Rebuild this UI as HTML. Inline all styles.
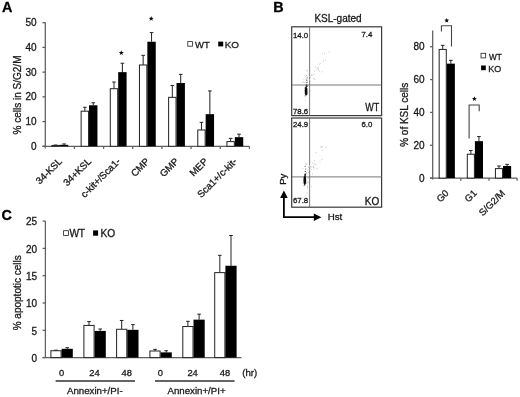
<!DOCTYPE html>
<html><head><meta charset="utf-8"><title>Figure</title>
<style>
html,body{margin:0;padding:0;background:#fff;}
body{width:520px;height:397px;overflow:hidden;}
svg{display:block;font-family:"Liberation Sans", sans-serif;}
text{stroke:currentColor;stroke-width:0.3px;}
</style></head>
<body>
<svg width="520" height="397" viewBox="0 0 520 397">
<defs><filter id="soft" x="0" y="0" width="100%" height="100%"><feColorMatrix type="saturate" values="0"/><feGaussianBlur stdDeviation="0.35"/></filter></defs>
<rect width="520" height="397" fill="#fff"/>
<g filter="url(#soft)">
<text font-size="14.40" text-anchor="start" font-weight="bold" fill="#000" color="#000" transform="translate(2.00 11.90)">A</text>
<line x1="45.30" y1="22.30" x2="45.30" y2="148.60" stroke="#5e5e5e" stroke-width="1.25"/>
<line x1="42.40" y1="146.30" x2="45.30" y2="146.30" stroke="#5e5e5e" stroke-width="1.25"/>
<text font-size="10.00" text-anchor="end" font-weight="normal" fill="#1a1a1a" color="#1a1a1a" transform="translate(36.60 149.90)">0</text>
<line x1="42.40" y1="121.58" x2="45.30" y2="121.58" stroke="#5e5e5e" stroke-width="1.25"/>
<text font-size="10.00" text-anchor="end" font-weight="normal" fill="#1a1a1a" color="#1a1a1a" transform="translate(36.60 125.18)">10</text>
<line x1="42.40" y1="96.86" x2="45.30" y2="96.86" stroke="#5e5e5e" stroke-width="1.25"/>
<text font-size="10.00" text-anchor="end" font-weight="normal" fill="#1a1a1a" color="#1a1a1a" transform="translate(36.60 100.46)">20</text>
<line x1="42.40" y1="72.14" x2="45.30" y2="72.14" stroke="#5e5e5e" stroke-width="1.25"/>
<text font-size="10.00" text-anchor="end" font-weight="normal" fill="#1a1a1a" color="#1a1a1a" transform="translate(36.60 75.74)">30</text>
<line x1="42.40" y1="47.42" x2="45.30" y2="47.42" stroke="#5e5e5e" stroke-width="1.25"/>
<text font-size="10.00" text-anchor="end" font-weight="normal" fill="#1a1a1a" color="#1a1a1a" transform="translate(36.60 51.02)">40</text>
<line x1="42.40" y1="22.70" x2="45.30" y2="22.70" stroke="#5e5e5e" stroke-width="1.25"/>
<text font-size="10.00" text-anchor="end" font-weight="normal" fill="#1a1a1a" color="#1a1a1a" transform="translate(36.60 26.30)">50</text>
<line x1="42.40" y1="146.30" x2="249.40" y2="146.30" stroke="#5e5e5e" stroke-width="1.25"/>
<line x1="74.46" y1="146.30" x2="74.46" y2="148.90" stroke="#5e5e5e" stroke-width="1.25"/>
<line x1="103.61" y1="146.30" x2="103.61" y2="148.90" stroke="#5e5e5e" stroke-width="1.25"/>
<line x1="132.77" y1="146.30" x2="132.77" y2="148.90" stroke="#5e5e5e" stroke-width="1.25"/>
<line x1="161.93" y1="146.30" x2="161.93" y2="148.90" stroke="#5e5e5e" stroke-width="1.25"/>
<line x1="191.09" y1="146.30" x2="191.09" y2="148.90" stroke="#5e5e5e" stroke-width="1.25"/>
<line x1="220.24" y1="146.30" x2="220.24" y2="148.90" stroke="#5e5e5e" stroke-width="1.25"/>
<line x1="249.40" y1="146.30" x2="249.40" y2="148.90" stroke="#5e5e5e" stroke-width="1.25"/>
<line x1="55.68" y1="145.43" x2="55.68" y2="145.06" stroke="#222" stroke-width="1.0"/>
<line x1="53.88" y1="145.06" x2="57.48" y2="145.06" stroke="#222" stroke-width="1.0"/>
<line x1="64.08" y1="144.82" x2="64.08" y2="143.95" stroke="#222" stroke-width="1.0"/>
<line x1="62.28" y1="143.95" x2="65.88" y2="143.95" stroke="#222" stroke-width="1.0"/>
<rect x="51.98" y="145.43" width="7.40" height="0.87" fill="#fff" stroke="#222" stroke-width="1"/>
<rect x="59.88" y="144.82" width="8.40" height="1.48" fill="#000"/>
<line x1="84.84" y1="111.20" x2="84.84" y2="107.24" stroke="#222" stroke-width="1.0"/>
<line x1="83.04" y1="107.24" x2="86.64" y2="107.24" stroke="#222" stroke-width="1.0"/>
<line x1="93.24" y1="105.26" x2="93.24" y2="102.79" stroke="#222" stroke-width="1.0"/>
<line x1="91.44" y1="102.79" x2="95.04" y2="102.79" stroke="#222" stroke-width="1.0"/>
<rect x="81.14" y="111.20" width="7.40" height="35.10" fill="#fff" stroke="#222" stroke-width="1"/>
<rect x="89.04" y="105.26" width="8.40" height="41.04" fill="#000"/>
<line x1="113.99" y1="88.70" x2="113.99" y2="82.03" stroke="#222" stroke-width="1.0"/>
<line x1="112.19" y1="82.03" x2="115.79" y2="82.03" stroke="#222" stroke-width="1.0"/>
<line x1="122.39" y1="72.14" x2="122.39" y2="63.24" stroke="#222" stroke-width="1.0"/>
<line x1="120.59" y1="63.24" x2="124.19" y2="63.24" stroke="#222" stroke-width="1.0"/>
<rect x="110.29" y="88.70" width="7.40" height="57.60" fill="#fff" stroke="#222" stroke-width="1"/>
<rect x="118.19" y="72.14" width="8.40" height="74.16" fill="#000"/>
<line x1="143.15" y1="64.97" x2="143.15" y2="55.33" stroke="#222" stroke-width="1.0"/>
<line x1="141.35" y1="55.33" x2="144.95" y2="55.33" stroke="#222" stroke-width="1.0"/>
<line x1="151.55" y1="41.73" x2="151.55" y2="32.59" stroke="#222" stroke-width="1.0"/>
<line x1="149.75" y1="32.59" x2="153.35" y2="32.59" stroke="#222" stroke-width="1.0"/>
<rect x="139.45" y="64.97" width="7.40" height="81.33" fill="#fff" stroke="#222" stroke-width="1"/>
<rect x="147.35" y="41.73" width="8.40" height="104.57" fill="#000"/>
<line x1="172.31" y1="97.35" x2="172.31" y2="85.49" stroke="#222" stroke-width="1.0"/>
<line x1="170.51" y1="85.49" x2="174.11" y2="85.49" stroke="#222" stroke-width="1.0"/>
<line x1="180.71" y1="83.02" x2="180.71" y2="74.36" stroke="#222" stroke-width="1.0"/>
<line x1="178.91" y1="74.36" x2="182.51" y2="74.36" stroke="#222" stroke-width="1.0"/>
<rect x="168.61" y="97.35" width="7.40" height="48.95" fill="#fff" stroke="#222" stroke-width="1"/>
<rect x="176.51" y="83.02" width="8.40" height="63.28" fill="#000"/>
<line x1="201.46" y1="129.98" x2="201.46" y2="122.32" stroke="#222" stroke-width="1.0"/>
<line x1="199.66" y1="122.32" x2="203.26" y2="122.32" stroke="#222" stroke-width="1.0"/>
<line x1="209.86" y1="114.16" x2="209.86" y2="90.93" stroke="#222" stroke-width="1.0"/>
<line x1="208.06" y1="90.93" x2="211.66" y2="90.93" stroke="#222" stroke-width="1.0"/>
<rect x="197.76" y="129.98" width="7.40" height="16.32" fill="#fff" stroke="#222" stroke-width="1"/>
<rect x="205.66" y="114.16" width="8.40" height="32.14" fill="#000"/>
<line x1="230.62" y1="141.60" x2="230.62" y2="138.39" stroke="#222" stroke-width="1.0"/>
<line x1="228.82" y1="138.39" x2="232.42" y2="138.39" stroke="#222" stroke-width="1.0"/>
<line x1="239.02" y1="137.15" x2="239.02" y2="134.19" stroke="#222" stroke-width="1.0"/>
<line x1="237.22" y1="134.19" x2="240.82" y2="134.19" stroke="#222" stroke-width="1.0"/>
<rect x="226.92" y="141.60" width="7.40" height="4.70" fill="#fff" stroke="#222" stroke-width="1"/>
<rect x="234.82" y="137.15" width="8.40" height="9.15" fill="#000"/>
<polygon points="121.30,50.30 121.99,51.95 123.77,52.10 122.41,53.26 122.83,55.00 121.30,54.07 119.77,55.00 120.19,53.26 118.83,52.10 120.61,51.95" fill="#111"/>
<polygon points="151.20,16.10 151.89,17.75 153.67,17.90 152.31,19.06 152.73,20.80 151.20,19.87 149.67,20.80 150.09,19.06 148.73,17.90 150.51,17.75" fill="#111"/>
<rect x="187.80" y="41.60" width="4.60" height="4.60" fill="#fff" stroke="#222" stroke-width="0.8"/>
<text font-size="9.50" text-anchor="start" font-weight="normal" fill="#1a1a1a" color="#1a1a1a" transform="translate(195.00 48.10)">WT</text>
<rect x="218.20" y="41.60" width="5.00" height="4.80" fill="#000"/>
<text font-size="9.90" text-anchor="start" font-weight="normal" fill="#1a1a1a" color="#1a1a1a" transform="translate(224.70 48.10)">KO</text>
<text font-size="10.00" text-anchor="middle" font-weight="normal" fill="#1a1a1a" color="#1a1a1a" transform="translate(20.90 95.00) rotate(-90)">% cells in S/G2/M</text>
<text font-size="9.70" text-anchor="end" font-weight="normal" fill="#1a1a1a" color="#1a1a1a" transform="translate(62.68 162.00) rotate(-45)">34-KSL</text>
<text font-size="9.70" text-anchor="end" font-weight="normal" fill="#1a1a1a" color="#1a1a1a" transform="translate(91.84 162.00) rotate(-45)">34+KSL</text>
<text font-size="9.70" text-anchor="end" font-weight="normal" fill="#1a1a1a" color="#1a1a1a" transform="translate(120.99 162.00) rotate(-45)">c-kit+/Sca1-</text>
<text font-size="9.70" text-anchor="end" font-weight="normal" fill="#1a1a1a" color="#1a1a1a" transform="translate(150.15 162.00) rotate(-45)">CMP</text>
<text font-size="9.70" text-anchor="end" font-weight="normal" fill="#1a1a1a" color="#1a1a1a" transform="translate(179.31 162.00) rotate(-45)">GMP</text>
<text font-size="9.70" text-anchor="end" font-weight="normal" fill="#1a1a1a" color="#1a1a1a" transform="translate(208.46 162.00) rotate(-45)">MEP</text>
<text font-size="9.70" text-anchor="end" font-weight="normal" fill="#1a1a1a" color="#1a1a1a" transform="translate(237.62 162.00) rotate(-45)">Sca1+/c-kit-</text>
<text font-size="14.40" text-anchor="start" font-weight="bold" fill="#000" color="#000" transform="translate(273.30 12.00)">B</text>
<text font-size="10.00" text-anchor="middle" font-weight="normal" fill="#1a1a1a" color="#1a1a1a" transform="translate(338.00 21.60)">KSL-gated</text>
<rect x="291.70" y="26.80" width="89.90" height="88.80" fill="none" stroke="#3a3a3a" stroke-width="1.2"/>
<line x1="309.60" y1="26.80" x2="309.60" y2="115.60" stroke="#666666" stroke-width="0.9"/>
<line x1="291.70" y1="85.00" x2="381.60" y2="85.00" stroke="#666666" stroke-width="0.9"/>
<text font-size="7.80" text-anchor="start" font-weight="normal" fill="#1a1a1a" color="#1a1a1a" transform="translate(293.00 37.60)">14.0</text>
<text font-size="7.80" text-anchor="start" font-weight="normal" fill="#1a1a1a" color="#1a1a1a" transform="translate(361.40 36.60)">7.4</text>
<text font-size="7.80" text-anchor="start" font-weight="normal" fill="#1a1a1a" color="#1a1a1a" transform="translate(293.00 113.60)">78.6</text>
<text font-size="10.00" text-anchor="end" font-weight="normal" fill="#1a1a1a" color="#1a1a1a" transform="translate(379.20 111.20) scale(0.9000 1)">WT</text>
<circle cx="311.87" cy="74.79" r="0.6" fill="#cccccc"/>
<circle cx="307.83" cy="78.78" r="0.6" fill="#cccccc"/>
<circle cx="319.46" cy="63.99" r="0.6" fill="#cccccc"/>
<circle cx="310.39" cy="77.32" r="0.6" fill="#cccccc"/>
<circle cx="325.66" cy="60.14" r="0.6" fill="#cccccc"/>
<circle cx="322.30" cy="71.81" r="0.6" fill="#cccccc"/>
<circle cx="329.06" cy="51.92" r="0.6" fill="#cccccc"/>
<circle cx="318.31" cy="68.99" r="0.6" fill="#cccccc"/>
<circle cx="309.59" cy="79.77" r="0.6" fill="#cccccc"/>
<circle cx="307.47" cy="81.01" r="0.6" fill="#cccccc"/>
<circle cx="310.51" cy="81.83" r="0.6" fill="#cccccc"/>
<circle cx="313.94" cy="74.20" r="0.6" fill="#cccccc"/>
<circle cx="322.48" cy="53.75" r="0.6" fill="#cccccc"/>
<circle cx="314.78" cy="79.38" r="0.6" fill="#cccccc"/>
<circle cx="307.37" cy="86.03" r="0.6" fill="#cccccc"/>
<circle cx="323.55" cy="61.16" r="0.6" fill="#cccccc"/>
<circle cx="324.51" cy="53.21" r="0.6" fill="#cccccc"/>
<circle cx="320.86" cy="63.36" r="0.6" fill="#cccccc"/>
<circle cx="314.57" cy="71.25" r="0.6" fill="#cccccc"/>
<circle cx="311.17" cy="74.92" r="0.6" fill="#cccccc"/>
<circle cx="306.00" cy="78.04" r="0.6" fill="#cccccc"/>
<circle cx="318.02" cy="67.67" r="0.6" fill="#cccccc"/>
<circle cx="315.74" cy="66.92" r="0.6" fill="#cccccc"/>
<circle cx="312.10" cy="75.50" r="0.6" fill="#cccccc"/>
<circle cx="306.98" cy="69.98" r="0.6" fill="#cccccc"/>
<circle cx="316.25" cy="69.85" r="0.6" fill="#cccccc"/>
<circle cx="319.32" cy="71.15" r="0.6" fill="#cccccc"/>
<circle cx="317.15" cy="68.28" r="0.6" fill="#cccccc"/>
<circle cx="318.47" cy="69.95" r="0.6" fill="#cccccc"/>
<circle cx="313.68" cy="78.42" r="0.6" fill="#cccccc"/>
<circle cx="306.26" cy="84.77" r="0.5" fill="#c8c8c8"/>
<circle cx="306.97" cy="70.50" r="0.5" fill="#c8c8c8"/>
<circle cx="309.10" cy="76.38" r="0.5" fill="#c8c8c8"/>
<circle cx="307.10" cy="75.99" r="0.5" fill="#c8c8c8"/>
<circle cx="303.56" cy="81.83" r="0.5" fill="#c8c8c8"/>
<circle cx="310.74" cy="90.58" r="0.5" fill="#c8c8c8"/>
<circle cx="304.49" cy="82.73" r="0.5" fill="#c8c8c8"/>
<circle cx="303.12" cy="84.73" r="0.5" fill="#c8c8c8"/>
<circle cx="304.57" cy="90.78" r="0.5" fill="#c8c8c8"/>
<circle cx="302.61" cy="82.32" r="0.5" fill="#c8c8c8"/>
<circle cx="303.89" cy="79.25" r="0.5" fill="#c8c8c8"/>
<circle cx="307.78" cy="86.01" r="0.5" fill="#c8c8c8"/>
<circle cx="307.46" cy="94.51" r="0.5" fill="#c8c8c8"/>
<circle cx="308.87" cy="74.03" r="0.5" fill="#c8c8c8"/>
<circle cx="307.34" cy="70.91" r="0.5" fill="#c8c8c8"/>
<circle cx="305.84" cy="100.35" r="0.5" fill="#c8c8c8"/>
<circle cx="305.52" cy="82.05" r="0.5" fill="#c8c8c8"/>
<circle cx="306.43" cy="85.14" r="0.5" fill="#c8c8c8"/>
<circle cx="306.07" cy="78.94" r="0.5" fill="#c8c8c8"/>
<circle cx="308.70" cy="92.11" r="0.5" fill="#c8c8c8"/>
<circle cx="305.47" cy="87.52" r="0.5" fill="#c8c8c8"/>
<circle cx="307.65" cy="93.26" r="0.5" fill="#c8c8c8"/>
<circle cx="306.98" cy="90.56" r="0.5" fill="#c8c8c8"/>
<circle cx="305.34" cy="76.44" r="0.5" fill="#c8c8c8"/>
<circle cx="304.76" cy="93.15" r="0.5" fill="#c8c8c8"/>
<rect x="291.70" y="118.00" width="89.90" height="89.20" fill="none" stroke="#3a3a3a" stroke-width="1.2"/>
<line x1="309.60" y1="118.00" x2="309.60" y2="207.20" stroke="#666666" stroke-width="0.9"/>
<line x1="291.70" y1="176.90" x2="381.60" y2="176.90" stroke="#666666" stroke-width="0.9"/>
<text font-size="7.80" text-anchor="start" font-weight="normal" fill="#1a1a1a" color="#1a1a1a" transform="translate(293.00 126.60)">24.9</text>
<text font-size="7.80" text-anchor="start" font-weight="normal" fill="#1a1a1a" color="#1a1a1a" transform="translate(361.40 126.60)">6.0</text>
<text font-size="7.80" text-anchor="start" font-weight="normal" fill="#1a1a1a" color="#1a1a1a" transform="translate(293.00 202.60)">67.8</text>
<text font-size="10.00" text-anchor="end" font-weight="normal" fill="#1a1a1a" color="#1a1a1a" transform="translate(379.20 205.20)">KO</text>
<circle cx="322.60" cy="150.52" r="0.6" fill="#cccccc"/>
<circle cx="311.19" cy="167.12" r="0.6" fill="#cccccc"/>
<circle cx="314.06" cy="167.23" r="0.6" fill="#cccccc"/>
<circle cx="312.87" cy="162.92" r="0.6" fill="#cccccc"/>
<circle cx="308.45" cy="172.42" r="0.6" fill="#cccccc"/>
<circle cx="325.83" cy="147.58" r="0.6" fill="#cccccc"/>
<circle cx="311.69" cy="169.23" r="0.6" fill="#cccccc"/>
<circle cx="306.87" cy="173.65" r="0.6" fill="#cccccc"/>
<circle cx="313.40" cy="166.36" r="0.6" fill="#cccccc"/>
<circle cx="313.45" cy="166.24" r="0.6" fill="#cccccc"/>
<circle cx="312.43" cy="173.98" r="0.6" fill="#cccccc"/>
<circle cx="322.24" cy="146.71" r="0.6" fill="#cccccc"/>
<circle cx="321.36" cy="147.50" r="0.6" fill="#cccccc"/>
<circle cx="320.86" cy="146.13" r="0.6" fill="#cccccc"/>
<circle cx="317.10" cy="168.68" r="0.6" fill="#cccccc"/>
<circle cx="309.46" cy="165.94" r="0.6" fill="#cccccc"/>
<circle cx="309.13" cy="166.91" r="0.6" fill="#cccccc"/>
<circle cx="316.26" cy="152.33" r="0.6" fill="#cccccc"/>
<circle cx="314.73" cy="164.13" r="0.6" fill="#cccccc"/>
<circle cx="306.85" cy="164.09" r="0.6" fill="#cccccc"/>
<circle cx="314.57" cy="160.57" r="0.6" fill="#cccccc"/>
<circle cx="310.01" cy="168.08" r="0.6" fill="#cccccc"/>
<circle cx="319.92" cy="161.86" r="0.6" fill="#cccccc"/>
<circle cx="314.11" cy="168.94" r="0.6" fill="#cccccc"/>
<circle cx="308.95" cy="166.15" r="0.6" fill="#cccccc"/>
<circle cx="313.19" cy="167.13" r="0.6" fill="#cccccc"/>
<circle cx="315.87" cy="164.36" r="0.6" fill="#cccccc"/>
<circle cx="310.80" cy="166.95" r="0.6" fill="#cccccc"/>
<circle cx="322.02" cy="159.30" r="0.6" fill="#cccccc"/>
<circle cx="307.90" cy="170.20" r="0.6" fill="#cccccc"/>
<circle cx="306.75" cy="193.05" r="0.5" fill="#c8c8c8"/>
<circle cx="308.39" cy="182.92" r="0.5" fill="#c8c8c8"/>
<circle cx="307.14" cy="172.14" r="0.5" fill="#c8c8c8"/>
<circle cx="307.27" cy="192.89" r="0.5" fill="#c8c8c8"/>
<circle cx="302.48" cy="182.82" r="0.5" fill="#c8c8c8"/>
<circle cx="308.32" cy="178.41" r="0.5" fill="#c8c8c8"/>
<circle cx="307.76" cy="187.45" r="0.5" fill="#c8c8c8"/>
<circle cx="311.39" cy="186.80" r="0.5" fill="#c8c8c8"/>
<circle cx="309.99" cy="178.95" r="0.5" fill="#c8c8c8"/>
<circle cx="307.90" cy="177.71" r="0.5" fill="#c8c8c8"/>
<circle cx="306.57" cy="172.59" r="0.5" fill="#c8c8c8"/>
<circle cx="307.55" cy="188.12" r="0.5" fill="#c8c8c8"/>
<circle cx="305.44" cy="178.47" r="0.5" fill="#c8c8c8"/>
<circle cx="307.43" cy="176.61" r="0.5" fill="#c8c8c8"/>
<circle cx="308.24" cy="178.56" r="0.5" fill="#c8c8c8"/>
<circle cx="302.92" cy="168.17" r="0.5" fill="#c8c8c8"/>
<circle cx="307.72" cy="181.63" r="0.5" fill="#c8c8c8"/>
<circle cx="308.68" cy="178.58" r="0.5" fill="#c8c8c8"/>
<circle cx="306.41" cy="163.84" r="0.5" fill="#c8c8c8"/>
<circle cx="309.43" cy="169.14" r="0.5" fill="#c8c8c8"/>
<circle cx="308.54" cy="167.39" r="0.5" fill="#c8c8c8"/>
<circle cx="304.24" cy="177.87" r="0.5" fill="#c8c8c8"/>
<circle cx="304.84" cy="170.99" r="0.5" fill="#c8c8c8"/>
<circle cx="308.18" cy="182.12" r="0.5" fill="#c8c8c8"/>
<circle cx="306.92" cy="173.94" r="0.5" fill="#c8c8c8"/>
<ellipse cx="306.1" cy="91.0" rx="1.35" ry="4.6" fill="#111"/>
<ellipse cx="306.6" cy="85.8" rx="0.9" ry="1.6" fill="#333"/>
<circle cx="306.9" cy="82.6" r="0.65" fill="#333"/>
<circle cx="306.6" cy="80.2" r="0.6" fill="#555"/>
<circle cx="307.2" cy="77.8" r="0.55" fill="#666"/>
<circle cx="306.4" cy="75.6" r="0.45" fill="#888"/>
<circle cx="305.2" cy="95.8" r="0.6" fill="#444"/>
<circle cx="307.2" cy="93.0" r="0.5" fill="#666"/>
<circle cx="304.8" cy="88.0" r="0.5" fill="#666"/>
<ellipse cx="304.8" cy="180.2" rx="1.35" ry="4.8" fill="#111"/>
<ellipse cx="305.2" cy="174.8" rx="0.9" ry="1.6" fill="#333"/>
<circle cx="305.4" cy="171.6" r="0.65" fill="#333"/>
<circle cx="305.6" cy="169.0" r="0.6" fill="#555"/>
<circle cx="305.2" cy="166.4" r="0.55" fill="#666"/>
<circle cx="305.8" cy="164.0" r="0.45" fill="#888"/>
<circle cx="306.8" cy="183.0" r="0.5" fill="#777"/>
<circle cx="307.4" cy="186.0" r="0.5" fill="#888"/>
<circle cx="304.2" cy="185.6" r="0.6" fill="#444"/>
<line x1="283.90" y1="217.20" x2="283.90" y2="196.50" stroke="#000" stroke-width="1.8"/>
<line x1="283.00" y1="217.20" x2="316.00" y2="217.20" stroke="#000" stroke-width="1.8"/>
<polygon points="280.1,198.0 287.7,198.0 283.9,190.4" fill="#000"/>
<polygon points="313.8,213.4 313.8,221.0 321.4,217.2" fill="#000"/>
<text font-size="9.40" text-anchor="middle" font-weight="normal" fill="#1a1a1a" color="#1a1a1a" transform="translate(285.80 179.20) rotate(-90)">Py</text>
<text font-size="9.70" text-anchor="start" font-weight="normal" fill="#1a1a1a" color="#1a1a1a" transform="translate(327.70 219.80)">Hst</text>
<line x1="432.70" y1="30.40" x2="432.70" y2="179.40" stroke="#5e5e5e" stroke-width="1.25"/>
<line x1="430.00" y1="178.10" x2="432.70" y2="178.10" stroke="#5e5e5e" stroke-width="1.25"/>
<text font-size="10.00" text-anchor="end" font-weight="normal" fill="#1a1a1a" color="#1a1a1a" transform="translate(424.60 181.70)">0</text>
<line x1="430.00" y1="145.26" x2="432.70" y2="145.26" stroke="#5e5e5e" stroke-width="1.25"/>
<text font-size="10.00" text-anchor="end" font-weight="normal" fill="#1a1a1a" color="#1a1a1a" transform="translate(424.60 148.86)">20</text>
<line x1="430.00" y1="112.42" x2="432.70" y2="112.42" stroke="#5e5e5e" stroke-width="1.25"/>
<text font-size="10.00" text-anchor="end" font-weight="normal" fill="#1a1a1a" color="#1a1a1a" transform="translate(424.60 116.02)">40</text>
<line x1="430.00" y1="79.58" x2="432.70" y2="79.58" stroke="#5e5e5e" stroke-width="1.25"/>
<text font-size="10.00" text-anchor="end" font-weight="normal" fill="#1a1a1a" color="#1a1a1a" transform="translate(424.60 83.18)">60</text>
<line x1="430.00" y1="46.74" x2="432.70" y2="46.74" stroke="#5e5e5e" stroke-width="1.25"/>
<text font-size="10.00" text-anchor="end" font-weight="normal" fill="#1a1a1a" color="#1a1a1a" transform="translate(424.60 50.34)">80</text>
<line x1="430.00" y1="178.10" x2="517.10" y2="178.10" stroke="#5e5e5e" stroke-width="1.25"/>
<line x1="460.83" y1="178.10" x2="460.83" y2="180.70" stroke="#5e5e5e" stroke-width="1.25"/>
<line x1="488.97" y1="178.10" x2="488.97" y2="180.70" stroke="#5e5e5e" stroke-width="1.25"/>
<line x1="517.10" y1="178.10" x2="517.10" y2="180.70" stroke="#5e5e5e" stroke-width="1.25"/>
<line x1="442.72" y1="49.43" x2="442.72" y2="45.34" stroke="#222" stroke-width="1.0"/>
<line x1="440.92" y1="45.34" x2="444.52" y2="45.34" stroke="#222" stroke-width="1.0"/>
<line x1="450.82" y1="63.65" x2="450.82" y2="60.38" stroke="#222" stroke-width="1.0"/>
<line x1="449.02" y1="60.38" x2="452.62" y2="60.38" stroke="#222" stroke-width="1.0"/>
<rect x="439.17" y="49.43" width="7.10" height="128.67" fill="#fff" stroke="#222" stroke-width="1"/>
<rect x="446.77" y="63.65" width="8.10" height="114.45" fill="#000"/>
<line x1="470.85" y1="154.23" x2="470.85" y2="150.47" stroke="#222" stroke-width="1.0"/>
<line x1="469.05" y1="150.47" x2="472.65" y2="150.47" stroke="#222" stroke-width="1.0"/>
<line x1="478.95" y1="141.15" x2="478.95" y2="136.57" stroke="#222" stroke-width="1.0"/>
<line x1="477.15" y1="136.57" x2="480.75" y2="136.57" stroke="#222" stroke-width="1.0"/>
<rect x="467.30" y="154.23" width="7.10" height="23.87" fill="#fff" stroke="#222" stroke-width="1"/>
<rect x="474.90" y="141.15" width="8.10" height="36.95" fill="#000"/>
<line x1="498.98" y1="168.62" x2="498.98" y2="166.00" stroke="#222" stroke-width="1.0"/>
<line x1="497.18" y1="166.00" x2="500.78" y2="166.00" stroke="#222" stroke-width="1.0"/>
<line x1="507.08" y1="166.00" x2="507.08" y2="164.37" stroke="#222" stroke-width="1.0"/>
<line x1="505.28" y1="164.37" x2="508.88" y2="164.37" stroke="#222" stroke-width="1.0"/>
<rect x="495.43" y="168.62" width="7.10" height="9.48" fill="#fff" stroke="#222" stroke-width="1"/>
<rect x="503.03" y="166.00" width="8.10" height="12.10" fill="#000"/>
<polyline points="441.4,31.4 441.4,25.7 451.5,25.7 451.5,46.5" fill="none" stroke="#444" stroke-width="1.1"/>
<polyline points="469.1,138.5 469.1,105.0 479.2,105.0 479.2,111.2" fill="none" stroke="#444" stroke-width="1.1"/>
<polygon points="446.70,17.90 447.39,19.55 449.17,19.70 447.81,20.86 448.23,22.60 446.70,21.67 445.17,22.60 445.59,20.86 444.23,19.70 446.01,19.55" fill="#111"/>
<polygon points="474.40,96.30 475.09,97.95 476.87,98.10 475.51,99.26 475.93,101.00 474.40,100.07 472.87,101.00 473.29,99.26 471.93,98.10 473.71,97.95" fill="#111"/>
<rect x="481.00" y="53.30" width="4.70" height="4.60" fill="#fff" stroke="#222" stroke-width="0.8"/>
<text font-size="9.00" text-anchor="start" font-weight="normal" fill="#1a1a1a" color="#1a1a1a" transform="translate(489.00 59.80) scale(0.9200 1)">WT</text>
<rect x="481.10" y="65.50" width="4.70" height="4.70" fill="#000"/>
<text font-size="9.00" text-anchor="start" font-weight="normal" fill="#1a1a1a" color="#1a1a1a" transform="translate(488.20 71.70)">KO</text>
<text font-size="10.00" text-anchor="middle" font-weight="normal" fill="#1a1a1a" color="#1a1a1a" transform="translate(408.30 114.80) rotate(-90)">% of KSL cells</text>
<text font-size="9.50" text-anchor="end" font-weight="normal" fill="#1a1a1a" color="#1a1a1a" transform="translate(449.37 193.80) rotate(-45)">G0</text>
<text font-size="9.50" text-anchor="end" font-weight="normal" fill="#1a1a1a" color="#1a1a1a" transform="translate(477.50 193.80) rotate(-45)">G1</text>
<text font-size="9.50" text-anchor="end" font-weight="normal" fill="#1a1a1a" color="#1a1a1a" transform="translate(505.63 193.80) rotate(-45)">S/G2/M</text>
<text font-size="14.40" text-anchor="start" font-weight="bold" fill="#000" color="#000" transform="translate(1.50 220.20)">C</text>
<line x1="45.40" y1="221.00" x2="45.40" y2="357.60" stroke="#5e5e5e" stroke-width="1.25"/>
<line x1="42.60" y1="357.60" x2="45.40" y2="357.60" stroke="#5e5e5e" stroke-width="1.25"/>
<text font-size="10.00" text-anchor="end" font-weight="normal" fill="#1a1a1a" color="#1a1a1a" transform="translate(37.00 361.80)">0</text>
<line x1="42.60" y1="330.30" x2="45.40" y2="330.30" stroke="#5e5e5e" stroke-width="1.25"/>
<text font-size="10.00" text-anchor="end" font-weight="normal" fill="#1a1a1a" color="#1a1a1a" transform="translate(37.00 334.50)">5</text>
<line x1="42.60" y1="303.00" x2="45.40" y2="303.00" stroke="#5e5e5e" stroke-width="1.25"/>
<text font-size="10.00" text-anchor="end" font-weight="normal" fill="#1a1a1a" color="#1a1a1a" transform="translate(37.00 307.20)">10</text>
<line x1="42.60" y1="275.70" x2="45.40" y2="275.70" stroke="#5e5e5e" stroke-width="1.25"/>
<text font-size="10.00" text-anchor="end" font-weight="normal" fill="#1a1a1a" color="#1a1a1a" transform="translate(37.00 279.90)">15</text>
<line x1="42.60" y1="248.40" x2="45.40" y2="248.40" stroke="#5e5e5e" stroke-width="1.25"/>
<text font-size="10.00" text-anchor="end" font-weight="normal" fill="#1a1a1a" color="#1a1a1a" transform="translate(37.00 252.60)">20</text>
<line x1="42.60" y1="221.10" x2="45.40" y2="221.10" stroke="#5e5e5e" stroke-width="1.25"/>
<text font-size="10.00" text-anchor="end" font-weight="normal" fill="#1a1a1a" color="#1a1a1a" transform="translate(37.00 225.30)">25</text>
<line x1="42.60" y1="357.60" x2="241.50" y2="357.60" stroke="#5e5e5e" stroke-width="1.25"/>
<line x1="56.00" y1="350.73" x2="56.00" y2="350.18" stroke="#222" stroke-width="1.0"/>
<line x1="54.20" y1="350.18" x2="57.80" y2="350.18" stroke="#222" stroke-width="1.0"/>
<line x1="67.20" y1="348.80" x2="67.20" y2="347.70" stroke="#222" stroke-width="1.0"/>
<line x1="65.40" y1="347.70" x2="69.00" y2="347.70" stroke="#222" stroke-width="1.0"/>
<rect x="50.90" y="350.73" width="10.20" height="6.88" fill="#fff" stroke="#222" stroke-width="1"/>
<rect x="61.60" y="348.80" width="11.20" height="8.80" fill="#000"/>
<line x1="89.00" y1="325.43" x2="89.00" y2="321.58" stroke="#222" stroke-width="1.0"/>
<line x1="87.20" y1="321.58" x2="90.80" y2="321.58" stroke="#222" stroke-width="1.0"/>
<line x1="100.20" y1="330.93" x2="100.20" y2="329.00" stroke="#222" stroke-width="1.0"/>
<line x1="98.40" y1="329.00" x2="102.00" y2="329.00" stroke="#222" stroke-width="1.0"/>
<rect x="83.90" y="325.43" width="10.20" height="32.17" fill="#fff" stroke="#222" stroke-width="1"/>
<rect x="94.60" y="330.93" width="11.20" height="26.67" fill="#000"/>
<line x1="121.70" y1="329.28" x2="121.70" y2="320.48" stroke="#222" stroke-width="1.0"/>
<line x1="119.90" y1="320.48" x2="123.50" y2="320.48" stroke="#222" stroke-width="1.0"/>
<line x1="132.90" y1="329.83" x2="132.90" y2="324.60" stroke="#222" stroke-width="1.0"/>
<line x1="131.10" y1="324.60" x2="134.70" y2="324.60" stroke="#222" stroke-width="1.0"/>
<rect x="116.60" y="329.28" width="10.20" height="28.33" fill="#fff" stroke="#222" stroke-width="1"/>
<rect x="127.30" y="329.83" width="11.20" height="27.77" fill="#000"/>
<line x1="155.00" y1="351.00" x2="155.00" y2="349.35" stroke="#222" stroke-width="1.0"/>
<line x1="153.20" y1="349.35" x2="156.80" y2="349.35" stroke="#222" stroke-width="1.0"/>
<line x1="166.20" y1="352.38" x2="166.20" y2="350.73" stroke="#222" stroke-width="1.0"/>
<line x1="164.40" y1="350.73" x2="168.00" y2="350.73" stroke="#222" stroke-width="1.0"/>
<rect x="149.90" y="351.00" width="10.20" height="6.60" fill="#fff" stroke="#222" stroke-width="1"/>
<rect x="160.60" y="352.38" width="11.20" height="5.22" fill="#000"/>
<line x1="187.90" y1="326.53" x2="187.90" y2="321.30" stroke="#222" stroke-width="1.0"/>
<line x1="186.10" y1="321.30" x2="189.70" y2="321.30" stroke="#222" stroke-width="1.0"/>
<line x1="199.10" y1="319.65" x2="199.10" y2="314.15" stroke="#222" stroke-width="1.0"/>
<line x1="197.30" y1="314.15" x2="200.90" y2="314.15" stroke="#222" stroke-width="1.0"/>
<rect x="182.80" y="326.53" width="10.20" height="31.08" fill="#fff" stroke="#222" stroke-width="1"/>
<rect x="193.50" y="319.65" width="11.20" height="37.95" fill="#000"/>
<line x1="219.80" y1="272.62" x2="219.80" y2="255.30" stroke="#222" stroke-width="1.0"/>
<line x1="218.00" y1="255.30" x2="221.60" y2="255.30" stroke="#222" stroke-width="1.0"/>
<line x1="231.00" y1="265.75" x2="231.00" y2="235.50" stroke="#222" stroke-width="1.0"/>
<line x1="229.20" y1="235.50" x2="232.80" y2="235.50" stroke="#222" stroke-width="1.0"/>
<rect x="214.70" y="272.62" width="10.20" height="84.97" fill="#fff" stroke="#222" stroke-width="1"/>
<rect x="225.40" y="265.75" width="11.20" height="91.85" fill="#000"/>
<rect x="63.60" y="230.70" width="4.80" height="4.90" fill="#fff" stroke="#222" stroke-width="0.8"/>
<text font-size="10.20" text-anchor="start" font-weight="normal" fill="#1a1a1a" color="#1a1a1a" transform="translate(69.60 237.00)" letter-spacing="-0.4">WT</text>
<rect x="93.10" y="230.40" width="5.00" height="5.30" fill="#000"/>
<text font-size="10.20" text-anchor="start" font-weight="normal" fill="#1a1a1a" color="#1a1a1a" transform="translate(100.40 237.00)">KO</text>
<text font-size="10.00" text-anchor="middle" font-weight="normal" fill="#1a1a1a" color="#1a1a1a" transform="translate(20.80 292.80) rotate(-90)">% apoptotic cells</text>
<text font-size="9.40" text-anchor="middle" font-weight="normal" fill="#1a1a1a" color="#1a1a1a" transform="translate(61.50 376.20)">0</text>
<text font-size="9.40" text-anchor="middle" font-weight="normal" fill="#1a1a1a" color="#1a1a1a" transform="translate(94.40 376.20)">24</text>
<text font-size="9.40" text-anchor="middle" font-weight="normal" fill="#1a1a1a" color="#1a1a1a" transform="translate(126.80 376.20)">48</text>
<text font-size="9.40" text-anchor="middle" font-weight="normal" fill="#1a1a1a" color="#1a1a1a" transform="translate(160.30 376.20)">0</text>
<text font-size="9.40" text-anchor="middle" font-weight="normal" fill="#1a1a1a" color="#1a1a1a" transform="translate(192.60 376.20)">24</text>
<text font-size="9.40" text-anchor="middle" font-weight="normal" fill="#1a1a1a" color="#1a1a1a" transform="translate(225.00 376.20)">48</text>
<text font-size="9.60" text-anchor="start" font-weight="normal" fill="#1a1a1a" color="#1a1a1a" transform="translate(242.20 376.40)">(hr)</text>
<line x1="55.60" y1="381.00" x2="135.00" y2="381.00" stroke="#333" stroke-width="1.7"/>
<line x1="155.00" y1="381.00" x2="234.60" y2="381.00" stroke="#333" stroke-width="1.7"/>
<text font-size="9.70" text-anchor="middle" font-weight="normal" fill="#1a1a1a" color="#1a1a1a" transform="translate(94.80 393.70)">Annexin+/PI-</text>
<text font-size="9.70" text-anchor="middle" font-weight="normal" fill="#1a1a1a" color="#1a1a1a" transform="translate(196.50 393.70)">Annexin+/PI+</text>
</g>
</svg>
</body></html>
